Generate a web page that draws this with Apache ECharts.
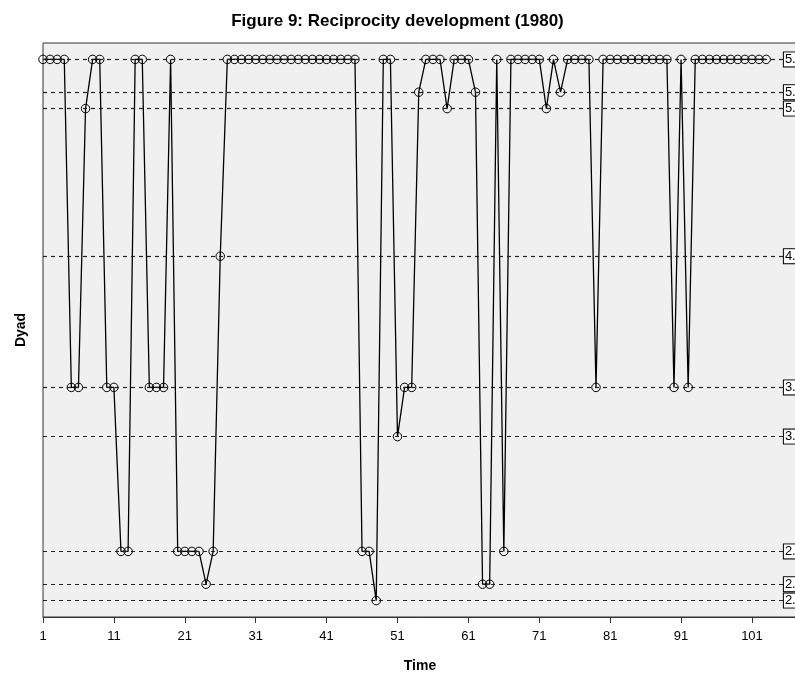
<!DOCTYPE html>
<html>
<head>
<meta charset="utf-8">
<script src="https://cdn.jsdelivr.net/npm/echarts@6/dist/echarts.min.js"></script>
<style>html,body{margin:0;padding:0;background:#fff;}#c{width:795px;height:675px;}</style>
</head>
<body>
<div id="c"></div>
<script>
const dyadValues = [
  5.3,5.3,5.3,5.3, 3.3,3.3, 5.0, 5.3,5.3, 3.3,3.3, 2.3,2.3, 5.3,5.3, 3.3,3.3,3.3, 5.3,
  2.3,2.3,2.3,2.3, 2.1, 2.3, 4.1,
  5.3,5.3,5.3,5.3,5.3,5.3,5.3,5.3,5.3,5.3,5.3,5.3,5.3,5.3,5.3,5.3,5.3,5.3,5.3,
  2.3,2.3, 2.0, 5.3,5.3, 3.0, 3.3,3.3, 5.1, 5.3,5.3,5.3, 5.0, 5.3,5.3,5.3, 5.1,
  2.1,2.1, 5.3, 2.3, 5.3,5.3,5.3,5.3,5.3, 5.0, 5.3, 5.1, 5.3,5.3,5.3,5.3, 3.3,
  5.3,5.3,5.3,5.3,5.3,5.3,5.3,5.3,5.3,5.3, 3.3, 5.3, 3.3,
  5.3,5.3,5.3,5.3,5.3,5.3,5.3,5.3,5.3,5.3,5.3
];
const levels = [2.0, 2.1, 2.3, 3.0, 3.3, 4.1, 5.0, 5.1, 5.3];
const xTicks = [1, 11, 21, 31, 41, 51, 61, 71, 81, 91, 101];
const labelX = 105.5;

const timeIdx = dyadValues.map((v, i) => i + 1);
const seriesData = dyadValues.map((v, i) => [timeIdx[i], v]);

const chart = echarts.init(document.getElementById('c'), null, {renderer: 'canvas'});
const ff = '"Liberation Sans", Arial, sans-serif';
chart.setOption({
  animation: false,
  backgroundColor: '#fff',
  title: {
    text: 'Figure 9: Reciprocity development (1980)',
    left: 'center', top: 8,
    textStyle: {fontFamily: ff, fontSize: 17, fontWeight: 'bold', color: '#000'}
  },
  grid: {
    left: 43, top: 43, bottom: 58, right: -2,
    outerBoundsMode: 'none', containLabel: false,
    show: true, backgroundColor: '#f0f0f0', borderColor: '#333', borderWidth: 1
  },
  xAxis: {
    type: 'value', min: 1, max: 107.35,
    name: 'Time', nameLocation: 'middle', nameGap: 42,
    nameTextStyle: {fontFamily: ff, fontSize: 14, fontWeight: 'bold', color: '#000'},
    axisLine: {show: true, lineStyle: {color: '#333', width: 1}},
    axisTick: {show: true, length: 6, lineStyle: {color: '#333'}, customValues: xTicks},
    axisLabel: {customValues: xTicks, fontFamily: ff, fontSize: 13, color: '#000', margin: 13},
    splitLine: {show: false}
  },
  yAxis: {
    type: 'value', min: 1.9, max: 5.4,
    name: 'Dyad', nameLocation: 'middle', nameGap: 15, nameRotate: 90,
    nameTextStyle: {fontFamily: ff, fontSize: 14, fontWeight: 'bold', color: '#000'},
    axisLine: {show: false}, axisTick: {show: false}, axisLabel: {show: false},
    splitLine: {show: false}
  },
  series: [
    {
      type: 'line', data: [], z: 1, silent: true,
      markLine: {
        silent: true, symbol: 'none', animation: false,
        lineStyle: {color: '#222', width: 1.2, type: [4, 4]},
        label: {
          show: true, position: 'end', distance: 0,
          formatter: p => p.data.lv.toFixed(1),
          fontFamily: ff, fontSize: 13, color: '#000',
          backgroundColor: '#fff', borderColor: '#000', borderWidth: 1,
          padding: [1, 2, 0, 1]
        },
        data: levels.map(v => [{coord: [1, v], lv: v}, {coord: [labelX, v]}])
      }
    },
    {
      type: 'line', data: seriesData, z: 3,
      symbol: 'circle', symbolSize: 8.5, showAllSymbol: true,
      lineStyle: {color: '#000', width: 1.3},
      itemStyle: {color: 'rgba(0,0,0,0)', borderColor: '#000', borderWidth: 1}
    }
  ]
});
</script>
</body>
</html>
